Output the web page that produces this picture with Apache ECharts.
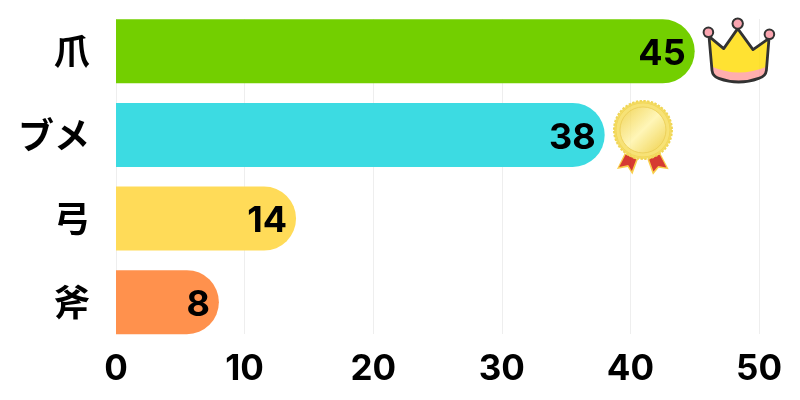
<!DOCTYPE html>
<html><head><meta charset="utf-8">
<style>html,body{margin:0;padding:0;background:#fff}#c{width:800px;height:400px}</style>
<script src="https://cdn.jsdelivr.net/npm/echarts@6/dist/echarts.min.js"></script>
</head><body><div id="c"></div>
<script>
const categories = ['爪', 'ブメ', '弓', '斧'];
const values = [45, 38, 14, 8];
const xTicks = [0, 10, 20, 30, 40, 50];
const awardCategories = ['爪', 'ブメ'];
const awardValues = [45, 38];

const barColors = ['#73cf00', '#3cdbe2', '#ffdb58', '#ff914d'];
const crownBody = 'M5.300 20 L20 32.300 L34 12.300 L49.300 33.300 L65.300 22 L62.700 54 Q62 60 55 62 Q35 69.400 15 62 Q9 60 8.300 54 Z';
const crownSvg = `<svg xmlns="http://www.w3.org/2000/svg" width="80" height="72" viewBox="-4 -2 80 72">
<path d="${crownBody}" fill="#ffdc00"/>
<path d="M8.500 50.500 Q35 62 62.800 50.500 L62.700 54 Q62 60 55 62 Q35 69.400 15 62 Q9 60 8.300 54 Z" fill="#ff9a9a"/>
<path d="${crownBody}" fill="none" stroke="#000" stroke-width="2.800" stroke-linejoin="round"/>
<circle cx="4.700" cy="16" r="4.800" fill="#f98f9d" stroke="#000" stroke-width="2"/>
<circle cx="34" cy="7.300" r="5.200" fill="#f98f9d" stroke="#000" stroke-width="2"/>
<circle cx="65.700" cy="18" r="4.800" fill="#f98f9d" stroke="#000" stroke-width="2"/>
</svg>`;
const medalSvg = `<svg xmlns="http://www.w3.org/2000/svg" width="62" height="78" viewBox="0 0 62 78">
<defs><linearGradient id="g" x1="0.1" y1="0.1" x2="0.9" y2="0.9">
<stop offset="0" stop-color="#f2d348"/><stop offset="0.5" stop-color="#fff4a6"/><stop offset="1" stop-color="#f0cf3a"/></linearGradient></defs>
<path d="M5.300 69 L13 53.300 L26.300 59.300 L20.700 74.500 L16 67 Z" fill="#f7c21f"/>
<path d="M7.500 67 L14 54.500 L24.500 59.500 L20.200 71 L16.500 65 Z" fill="#cc0a00"/>
<path d="M35.700 59.300 L48.700 53.300 L57 69.300 L47 67.700 L41.300 74.700 Z" fill="#f7c21f"/>
<path d="M37.500 59.500 L48 54.500 L54.700 67.500 L46.500 66 L41.800 71.500 Z" fill="#cc0a00"/>
<circle cx="31.300" cy="30" r="29" fill="#f3d63e" stroke="#eccb2e" stroke-width="2" stroke-dasharray="2.400 1.400"/>
<circle cx="31.300" cy="30" r="27" fill="#f6dc55" stroke="#f0cd33" stroke-width="1"/>
<circle cx="31.300" cy="30" r="23" fill="url(#g)" stroke="#e6c02a" stroke-width="0.800"/>
</svg>`;
const toUri = s => 'image://data:image/svg+xml;charset=utf-8,' + encodeURIComponent(s);
const font = '"Inter","Noto Sans CJK JP",sans-serif';
const chart = echarts.init(document.getElementById('c'), null, {renderer: 'canvas'});
chart.setOption({
  animation: false,
  backgroundColor: '#fff',
  grid: [
    {left: 116, right: 41, top: 19, height: 315},
    {left: 116, right: 41, top: 9.5, height: 334.5}
  ],
  xAxis: [
    {gridIndex: 0, type: 'value', min: 0, max: 50, interval: 10,
     axisLine: {show: false}, axisTick: {show: false},
     splitLine: {show: true, lineStyle: {color: '#eeeeee', width: 1}},
     axisLabel: {color: '#000', fontFamily: font, fontWeight: 700, fontSize: 35, margin: 18,
                 formatter: v => String(xTicks[xTicks.indexOf(v)])}},
    {gridIndex: 1, type: 'value', min: 0, max: 50, show: false}
  ],
  yAxis: [
    {gridIndex: 0, type: 'category', data: categories, inverse: true, show: false},
    {gridIndex: 1, type: 'category', data: categories, inverse: true,
     axisLine: {show: false}, axisTick: {show: false},
     axisLabel: {color: '#000', fontFamily: font, fontWeight: 700, fontSize: 36, margin: 26,
                 verticalAlign: 'top', lineHeight: 6}}
  ],
  series: [
    {type: 'bar', xAxisIndex: 1, yAxisIndex: 1, barWidth: 64, z: 3,
     data: values.map((v, i) => ({value: v, itemStyle: {color: barColors[i]}})),
     itemStyle: {borderRadius: [0, 32, 32, 0]},
     label: {show: true, position: 'insideRight', distance: 9, offset: [0, 3], color: '#000',
             fontFamily: font, fontWeight: 700, fontSize: 36}},
    {type: 'scatter', xAxisIndex: 1, yAxisIndex: 1, z: 4, silent: true,
     data: [
       {value: [awardValues[0], awardCategories[0]], symbol: toUri(crownSvg), symbolSize: [80, 72], symbolOffset: [45, -1]},
       {value: [awardValues[1], awardCategories[1]], symbol: toUri(medalSvg), symbolSize: [62, 78], symbolOffset: [38, 4]}
     ]}
  ]
});
</script></body></html>
